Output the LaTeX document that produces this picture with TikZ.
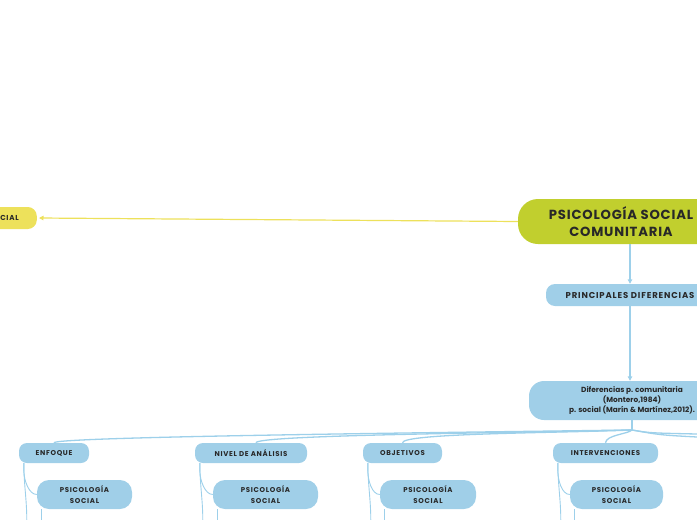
\documentclass[tikz,border=0pt]{standalone}
\usepackage{fontspec}
\setmainfont{Poppins}
\newfontfamily\popls[LetterSpace=10]{Poppins}
\newfontfamily\poprt[LetterSpace=6]{Poppins}
\usetikzlibrary{calc,arrows.meta}
\definecolor{mblue}{RGB}{160,207,232}
\definecolor{lblue}{RGB}{157,208,234}
\definecolor{mgreen}{RGB}{193,207,46}
\definecolor{myell}{RGB}{237,225,91}
\definecolor{mtext}{RGB}{40,40,40}
\tikzset{
  box/.style={fill=mblue, text=mtext, rounded corners=8pt, inner sep=0pt, align=center},
  catbox/.style={box, minimum height=20pt, font=\popls\fontsize{7}{8}\selectfont\bfseries},
  psbox/.style={box, minimum height=29pt, rounded corners=12pt, font=\popls\fontsize{7}{11}\selectfont\bfseries},
  conn/.style={draw=lblue, line width=1.3pt},
  thin/.style={draw=lblue, line width=0.9pt},
  tip/.style={-{Triangle[width=4.5pt,length=4.5pt]}}
}
\begin{document}
\begin{tikzpicture}[x=1pt,y=-1pt]
\useasboundingbox (0,0) rectangle (697,520);
% root
\node[fill=mgreen, text=mtext, rounded corners=20pt, minimum width=206pt, minimum height=45pt, inner sep=0pt, align=center,
  font=\poprt\fontsize{13.2}{17}\selectfont\bfseries] (root) at (621,221.5) {PSICOLOGÍA SOCIAL\\COMUNITARIA};
% yellow (cut) node
\node[fill=myell, text=mtext, rounded corners=9pt, minimum height=22pt, text width=44pt, inner xsep=18pt, inner ysep=0pt, align=right,
  font=\popls\fontsize{7.2}{8}\selectfont\bfseries, anchor=east] (soc) at (37,218) {CIAL};
% principales
\node[box, minimum width=168pt, minimum height=22pt, rounded corners=9pt, font=\popls\fontsize{8.5}{9}\selectfont\bfseries] (prin) at (630,295) {PRINCIPALES DIFERENCIAS};
% diferencias
\node[box, minimum width=206pt, minimum height=39pt, rounded corners=15pt, font=\fontsize{7.4}{10}\selectfont\bfseries] (dif) at (632,400.5)
  {Diferencias p. comunitaria\\(Montero,1984)\\p. social (Marín \& Martínez,2012).};
% categories
\node[catbox, minimum width=70pt] (enf) at (54,453) {ENFOQUE};
\node[catbox, minimum width=112pt] (niv) at (251,453) {NIVEL DE ANÁLISIS};
\node[catbox, minimum width=79pt] (obj) at (402.5,453) {OBJETIVOS};
\node[catbox, minimum width=105pt] (int) at (605.5,453) {INTERVENCIONES};
% children
\node[psbox, minimum width=95pt] (ps1) at (84.5,494.5) {PSICOLOGÍA\\SOCIAL};
\node[psbox, minimum width=105pt] (ps2) at (265.5,494.5) {PSICOLOGÍA\\SOCIAL};
\node[psbox, minimum width=96pt] (ps3) at (428,494.5) {PSICOLOGÍA\\SOCIAL};
\node[psbox, minimum width=93pt] (ps4) at (616.5,494.5) {PSICOLOGÍA\\SOCIAL};
% yellow connector
\draw[draw=myell, line width=1.2pt, tip] (root.west) -- ([xshift=2pt]soc.east);
% blue arrows
\draw[conn, tip] (root.south -| prin.north) -- (prin.north);
\draw[conn, tip] (prin.south) -- (prin.south |- dif.north);
% hub fan
\coordinate (hub) at (632,430);
\coordinate (r1) at (697,434);
\coordinate (r2) at (697,437);
\draw[conn] (dif.south) -- (hub);
\draw[conn] (hub) .. controls (628,434) and (606,435) .. (int.north);
\draw[conn] (hub) .. controls (560,433) and (402,433) .. (obj.north);
\draw[conn] (hub) .. controls (500,433) and (256,435) .. ([xshift=5pt]niv.north);
\draw[conn] (hub) .. controls (400,433) and (54,437) .. (enf.north);
\draw[conn] (hub) .. controls (650,433) .. (r1);
\draw[conn] (hub) .. controls (660,435) .. (r2);
% sub connectors
\foreach \c/\p/\n in {enf/ps1/1, niv/ps2/2, obj/ps3/3, int/ps4/4}{
  \coordinate (top\n) at ([xshift=5pt]\c.south west);
  \coordinate (bot\n) at ([xshift=8pt]\c.south west |- 0,520);
  \coordinate (pb\n) at ([xshift=5pt]\p.south west |- 0,520);
  \draw[thin] (top\n) -- ++(0,7) .. controls ++(0,10) and ++(-8,0) .. (\p.west);
  \draw[thin] (top\n) .. controls ++(0,20) and ++(0,-20) .. (bot\n);
  \draw[thin] ([xshift=5pt]\p.south west) -- (pb\n);
}
\end{tikzpicture}
\end{document}
